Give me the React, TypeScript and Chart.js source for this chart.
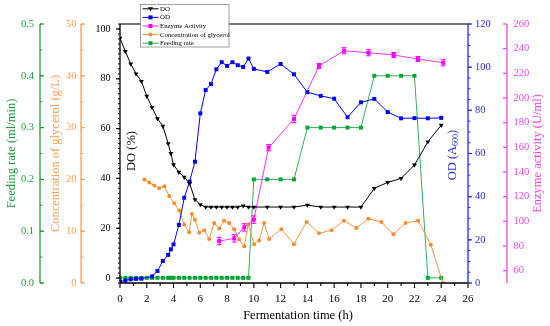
import React, { useEffect, useRef } from "react";
import { Chart, registerables } from "chart.js";

Chart.register(...registerables);

const FONT = "'Liberation Serif', 'Times New Roman', serif";

// ---------- data ----------
const doTime = [0, 0.4, 0.8, 1.2, 1.6, 2.0, 2.4, 2.8, 3.2, 3.6, 3.8, 4.0, 4.4, 4.8, 5.2, 5.6, 6.0, 6.4, 6.8, 7.2, 7.6, 8.0, 8.4, 8.8, 9.2, 9.6, 10, 11, 12, 13, 14, 15, 16, 17, 18, 19, 20, 21, 22, 23, 24];
const doValues = [96.3, 91, 86, 82, 79, 73, 68.5, 64, 61, 54, 50, 45.5, 42.5, 40.5, 38, 31.5, 29.5, 28.5, 28.5, 28.5, 28.5, 28.5, 28.5, 28.5, 29, 28.5, 28.5, 28.5, 28.5, 28.5, 29.3, 28.5, 28.5, 28.5, 28.5, 36, 38.4, 40, 45.4, 54.7, 61.4];

const odTime = [0, 0.4, 0.8, 1.2, 1.6, 2.4, 2.8, 3.2, 3.6, 3.8, 4.0, 4.4, 4.8, 5.2, 5.6, 6.0, 6.4, 6.8, 7.2, 7.6, 8.0, 8.4, 8.8, 9.2, 9.6, 10, 11, 12, 13, 14, 15, 16, 17, 18, 19, 20, 21, 22, 23, 24];
const odValues = [0.6, 1.2, 1.7, 1.9, 2.0, 3.1, 5.6, 10.2, 13.0, 15.6, 17.9, 26.9, 39.5, 47, 56.2, 78.6, 89.4, 92.2, 99, 102.3, 100.6, 102.3, 100.9, 100.1, 104, 99.2, 97.8, 101.5, 96.7, 88.4, 86.7, 85.4, 76.8, 83.7, 85.3, 79.2, 76.3, 76.4, 76.3, 76.5];

const enzTime = [7.41, 8.53, 9.28, 10.0, 11.1, 13.0, 14.87, 16.74, 18.57, 20.45, 22.26, 24.15];
const enzValues = [84, 86.2, 95.1, 101.4, 159.7, 183, 226, 238.3, 236.7, 234.9, 231.6, 228.6];
const enzErr = [3, 3, 3, 3, 2.5, 3, 2, 2.5, 2.5, 2, 2, 2.5];

const glyTime = [1.82, 2.19, 2.56, 2.93, 3.31, 3.68, 4.05, 4.43, 4.8, 5.17, 5.37, 5.6, 5.92, 6.29, 6.66, 7.04, 7.41, 7.78, 8.16, 8.53, 8.9, 9.28, 9.58, 10.02, 10.4, 10.77, 11.14, 12.06, 13.0, 13.95, 14.87, 15.8, 16.73, 17.66, 18.55, 19.53, 20.43, 21.34, 22.28, 23.22, 24.13];
const glyValues = [20, 19.4, 18.8, 18.3, 18.7, 16.8, 15.4, 14, 11.3, 9.8, 13.3, 12.2, 9.7, 10.2, 8.5, 11.6, 10.5, 12, 11.6, 10.4, 8.4, 7.1, 11.3, 7.5, 8.2, 11.6, 8.5, 10.4, 7.5, 11.8, 9.6, 10.2, 12, 10.6, 12.4, 11.8, 9.4, 11.6, 12, 7.4, 0];

const feedTime = [0, 0.4, 0.8, 1.2, 1.6, 2.0, 2.4, 2.8, 3.2, 3.6, 3.8, 4.0, 4.4, 4.8, 5.2, 5.6, 6.0, 6.4, 6.8, 7.2, 7.6, 8.0, 8.4, 8.8, 9.2, 9.6, 10, 11, 12, 13, 14, 15, 16, 17, 18, 19, 20, 21, 22, 23, 24];
const feedValues = [0.01, 0.01, 0.01, 0.01, 0.01, 0.01, 0.01, 0.01, 0.01, 0.01, 0.01, 0.01, 0.01, 0.01, 0.01, 0.01, 0.01, 0.01, 0.01, 0.01, 0.01, 0.01, 0.01, 0.01, 0.01, 0.01, 0.2, 0.2, 0.2, 0.2, 0.3, 0.3, 0.3, 0.3, 0.3, 0.4, 0.4, 0.4, 0.4, 0.01, 0.01];

// ---------- tick labels ----------
const xTicks = [0, 2, 4, 6, 8, 10, 12, 14, 16, 18, 20, 22, 24, 26];
const doTicks = [0, 20, 40, 60, 80, 100];
const glyTicks = [0, 10, 20, 30, 40, 50];
const feedTicks = [0, 0.1, 0.2, 0.3, 0.4, 0.5];
const odTicks = [0, 20, 40, 60, 80, 100, 120];
const enzTicks = [60, 80, 100, 120, 140, 160, 180, 200, 220, 240, 260];

const legendLabels = ["DO", "OD", "Enzyme Activity", "Concentration of glycerol", "Feeding rate"];

// ---------- colours ----------
const C_DO = "#000000";
const C_OD = "#0000ff";
const C_ENZ = "#ff00ff";
const C_ENZ_LINE = "#ff33ff";
const C_GLY = "#ff8a2a";
const C_GLY_LINE = "#f99545";
const C_FEED = "#00a82e";
const C_FEED_LINE = "#34ae5c";
const C_AX_FEED = "#1a9e3a";
const C_AX_GLY = "#f5a05c";
const C_AX_OD = "#2a2af0";
const C_AX_ENZ = "#f044e6";

const pts = (xs: number[], ys: number[]) => xs.map((x, i) => ({ x, y: ys[i] }));

function line(ctx: CanvasRenderingContext2D, x1: number, y1: number, x2: number, y2: number, color: string, w: number) {
  ctx.beginPath();
  ctx.strokeStyle = color;
  ctx.lineWidth = w;
  ctx.moveTo(x1, y1);
  ctx.lineTo(x2, y2);
  ctx.stroke();
}

function vText(ctx: CanvasRenderingContext2D, text: string, x: number, y: number, color: string, size: number) {
  ctx.save();
  ctx.translate(x, y);
  ctx.rotate(-Math.PI / 2);
  ctx.fillStyle = color;
  ctx.font = `${size}px ${FONT}`;
  ctx.textAlign = "center";
  ctx.textBaseline = "middle";
  ctx.fillText(text, 0, 0);
  ctx.restore();
}

function yAxisDecor(ctx: CanvasRenderingContext2D, scale: any, x: number, dir: number, color: string,
  majorStep: number, minorStep: number, from: number, to: number, majLen: number, minLen: number, top: number, bottom: number) {
  line(ctx, x, top, x, bottom, color, 1.3);
  if (minorStep > 0) {
    const n = Math.round((to - from) / minorStep);
    for (let i = 0; i <= n; i++) {
      const v = from + i * minorStep;
      const y = scale.getPixelForValue(v);
      if (y < top - 0.5 || y > bottom + 0.5) continue;
      line(ctx, x, y, x + dir * minLen, y, color, 1);
    }
  }
  const m = Math.round((to - from) / majorStep);
  for (let i = 0; i <= m; i++) {
    const v = from + i * majorStep;
    const y = scale.getPixelForValue(v);
    if (y < top - 0.5 || y > bottom + 0.5) continue;
    line(ctx, x, y, x + dir * majLen, y, color, 1.2);
  }
}

function marker(ctx: CanvasRenderingContext2D, kind: string, x: number, y: number, color: string) {
  ctx.fillStyle = color;
  ctx.beginPath();
  if (kind === "tri") {
    ctx.moveTo(x - 2.6, y - 1.6);
    ctx.lineTo(x + 2.6, y - 1.6);
    ctx.lineTo(x, y + 2.4);
    ctx.closePath();
  } else if (kind === "circle") {
    ctx.arc(x, y, 2, 0, Math.PI * 2);
  } else {
    ctx.rect(x - 2, y - 2, 4, 4);
  }
  ctx.fill();
}

const decorPlugin = {
  id: "decor",
  afterDatasetsDraw(chart: any) {
    const ctx: CanvasRenderingContext2D = chart.ctx;
    const ca = chart.chartArea;
    const s = chart.scales;
    ctx.save();

    // error bars for enzyme activity
    const yE = s.yEnz;
    const xS = s.x;
    enzTime.forEach((t, i) => {
      const px = xS.getPixelForValue(t);
      const y1 = yE.getPixelForValue(enzValues[i] - enzErr[i]);
      const y2 = yE.getPixelForValue(enzValues[i] + enzErr[i]);
      line(ctx, px, y1, px, y2, C_ENZ, 1);
      line(ctx, px - 2.5, y1, px + 2.5, y1, C_ENZ, 1);
      line(ctx, px - 2.5, y2, px + 2.5, y2, C_ENZ, 1);
    });

    // top frame
    line(ctx, ca.left, ca.top, ca.right, ca.top, "#444444", 1.3);

    // x axis
    line(ctx, ca.left, ca.bottom, ca.right, ca.bottom, "#000", 1.3);
    for (let v = 0; v <= 26; v++) {
      const px = xS.getPixelForValue(v);
      const len = v % 2 === 0 ? 5 : 3;
      line(ctx, px, ca.bottom, px, ca.bottom + len, "#000", 1.1);
    }

    // y axes
    yAxisDecor(ctx, s.yDO, s.yDO.right, -1, "#000", 20, 2, 0, 102, 4, 2, ca.top, ca.bottom);
    // minor below zero on DO
    line(ctx, s.yDO.right, s.yDO.getPixelForValue(-2), s.yDO.right - 2, s.yDO.getPixelForValue(-2), "#000", 1);
    yAxisDecor(ctx, s.yGly, s.yGly.right, 1, C_AX_GLY, 10, 5, 0, 50, 4, 2.5, ca.top, ca.bottom);
    yAxisDecor(ctx, s.yFeed, s.yFeed.right, 1, C_AX_FEED, 0.1, 0.05, 0, 0.5, 4, 2.5, ca.top, ca.bottom);
    yAxisDecor(ctx, s.yOD, s.yOD.left, 1, C_AX_OD, 20, 5, 0, 120, 4, 2.5, ca.top, ca.bottom);
    yAxisDecor(ctx, s.yEnz, s.yEnz.left, -1, C_AX_ENZ, 20, 0, 60, 260, 4, 0, ca.top, ca.bottom);

    // axis titles
    const midY = (ca.top + ca.bottom) / 2;
    vText(ctx, "Feeding rate (ml/min)", 12, midY, C_AX_FEED, 12.5);
    vText(ctx, "Concentration of glycerol (g/L)", 56, midY, C_AX_GLY, 12.5);
    vText(ctx, "Enzyme activity (U/ml)", 538, midY, C_AX_ENZ, 12.5);
    vText(ctx, "DO (%)", 132, 151, "#000", 12.5);

    // OD (A600) with subscript
    ctx.save();
    ctx.translate(453, 155);
    ctx.rotate(-Math.PI / 2);
    ctx.fillStyle = C_AX_OD;
    ctx.textBaseline = "middle";
    ctx.textAlign = "left";
    const big = `12.5px ${FONT}`;
    const small = `8px ${FONT}`;
    ctx.font = big;
    const w1 = ctx.measureText("OD (A").width;
    const w3 = ctx.measureText(")").width;
    ctx.font = small;
    const w2 = ctx.measureText("600").width;
    let x0 = -(w1 + w2 + w3) / 2;
    ctx.font = big;
    ctx.fillText("OD (A", x0, 0);
    ctx.font = small;
    ctx.fillText("600", x0 + w1, 3);
    ctx.font = big;
    ctx.fillText(")", x0 + w1 + w2, 0);
    ctx.restore();

    // x title
    ctx.fillStyle = "#000";
    ctx.font = `12.5px ${FONT}`;
    ctx.textAlign = "center";
    ctx.textBaseline = "middle";
    ctx.fillText("Fermentation time (h)", 298, 316);

    ctx.restore();
  },
  afterDraw(chart: any) {
    const ctx: CanvasRenderingContext2D = chart.ctx;
    ctx.save();
    const bx = 140.5, by = 4.5, bw = 88.5, bh = 42.5;
    ctx.fillStyle = "#ffffff";
    ctx.fillRect(bx, by, bw, bh);
    ctx.strokeStyle = "#888888";
    ctx.lineWidth = 0.8;
    ctx.strokeRect(bx, by, bw, bh);
    const rows = [
      { c: C_DO, lc: C_DO, m: "tri" },
      { c: C_OD, lc: C_OD, m: "rect" },
      { c: C_ENZ, lc: C_ENZ_LINE, m: "rect" },
      { c: C_GLY, lc: C_GLY_LINE, m: "circle" },
      { c: C_FEED, lc: C_FEED_LINE, m: "rect" },
    ];
    ctx.font = `6.8px ${FONT}`;
    ctx.textBaseline = "middle";
    ctx.textAlign = "left";
    rows.forEach((r, i) => {
      const y = 8.8 + i * 8.6;
      line(ctx, 142.5, y, 158.5, y, r.lc, 1);
      marker(ctx, r.m, 150.5, y, r.c);
      ctx.fillStyle = "#000";
      ctx.fillText(legendLabels[i], 160, y + 0.3);
    });
    ctx.restore();
  },
};

function yScale(opts: any) {
  const { ticks, color, size, padding, width, weight, position, min, max, fmt } = opts;
  return {
    type: "linear",
    position,
    min,
    max,
    weight,
    grid: { display: false, drawTicks: false },
    border: { display: false },
    ticks: {
      color,
      padding,
      autoSkip: false,
      font: { family: FONT, size },
      callback: (v: any) => (fmt ? fmt(Number(v)) : String(v)),
    },
    afterBuildTicks: (scale: any) => {
      scale.ticks = ticks.map((v: number) => ({ value: v }));
    },
    afterFit: (scale: any) => {
      scale.width = width;
    },
  };
}

export default function App() {
  const ref = useRef<HTMLCanvasElement>(null);
  useEffect(() => {
    if (!ref.current) return;
    const chart = new Chart(ref.current, {
      type: "line",
      data: {
        datasets: [
          {
            label: legendLabels[0],
            data: pts(doTime, doValues),
            yAxisID: "yDO",
            borderColor: C_DO,
            backgroundColor: C_DO,
            borderWidth: 1,
            pointStyle: "triangle",
            pointRotation: 180,
            pointRadius: 2.8,
            pointBorderWidth: 0,
            tension: 0,
          },
          {
            label: legendLabels[1],
            data: pts(odTime, odValues),
            yAxisID: "yOD",
            borderColor: C_OD,
            backgroundColor: C_OD,
            borderWidth: 1,
            pointStyle: "rect",
            pointRadius: 2.8,
            pointBorderWidth: 0,
          },
          {
            label: legendLabels[2],
            data: pts(enzTime, enzValues),
            yAxisID: "yEnz",
            borderColor: C_ENZ_LINE,
            backgroundColor: C_ENZ,
            borderWidth: 1,
            pointStyle: "rect",
            pointRadius: 2.8,
            pointBorderWidth: 0,
          },
          {
            label: legendLabels[3],
            data: pts(glyTime, glyValues),
            yAxisID: "yGly",
            borderColor: C_GLY_LINE,
            backgroundColor: C_GLY,
            borderWidth: 1,
            pointStyle: "circle",
            pointRadius: 2,
            pointBorderWidth: 0,
          },
          {
            label: legendLabels[4],
            data: pts(feedTime, feedValues),
            yAxisID: "yFeed",
            borderColor: C_FEED_LINE,
            backgroundColor: C_FEED,
            borderWidth: 1,
            pointStyle: "rect",
            pointRadius: 2.8,
            pointBorderWidth: 0,
          },
        ],
      },
      options: {
        responsive: false,
        maintainAspectRatio: false,
        devicePixelRatio: 1,
        animation: false,
        layout: { padding: { top: 24, left: 0, right: 0, bottom: 0 } },
        plugins: { legend: { display: false }, tooltip: { enabled: false }, title: { display: false } },
        elements: { line: { fill: false } },
        scales: {
          x: {
            type: "linear",
            position: "bottom",
            min: 0,
            max: 26,
            grid: { display: false, drawTicks: false },
            border: { display: false },
            ticks: { color: "#000", padding: 10, autoSkip: false, maxRotation: 0, font: { family: FONT, size: 11 } },
            afterBuildTicks: (scale: any) => {
              scale.ticks = xTicks.map((v) => ({ value: v }));
            },
            afterFit: (scale: any) => {
              scale.height = 43;
            },
          },
          yFeed: yScale({ ticks: feedTicks, color: C_AX_FEED, size: 10.5, padding: 6, width: 40, weight: 3, position: "left", min: 0, max: 0.5, fmt: (v: number) => v.toFixed(1) }),
          yGly: yScale({ ticks: glyTicks, color: C_AX_GLY, size: 10.5, padding: 4.5, width: 41, weight: 2, position: "left", min: 0, max: 50 }),
          yDO: yScale({ ticks: doTicks, color: "#000", size: 10, padding: 9.5, width: 39, weight: 1, position: "left", min: -2, max: 102 }),
          yOD: yScale({ ticks: odTicks, color: C_AX_OD, size: 10.5, padding: 7, width: 39, weight: 1, position: "right", min: 0, max: 120 }),
          yEnz: yScale({ ticks: enzTicks, color: C_AX_ENZ, size: 10.5, padding: 6.5, width: 43, weight: 2, position: "right", min: 50, max: 260 }),
        },
      } as any,
      plugins: [decorPlugin],
    } as any);
    return () => chart.destroy();
  }, []);
  return (
    <div style={{ position: "absolute", left: 0, top: 0, width: 550, height: 326, background: "#fff" }}>
      <canvas ref={ref} width={550} height={326} style={{ display: "block", width: 550, height: 326 }} />
    </div>
  );
}
